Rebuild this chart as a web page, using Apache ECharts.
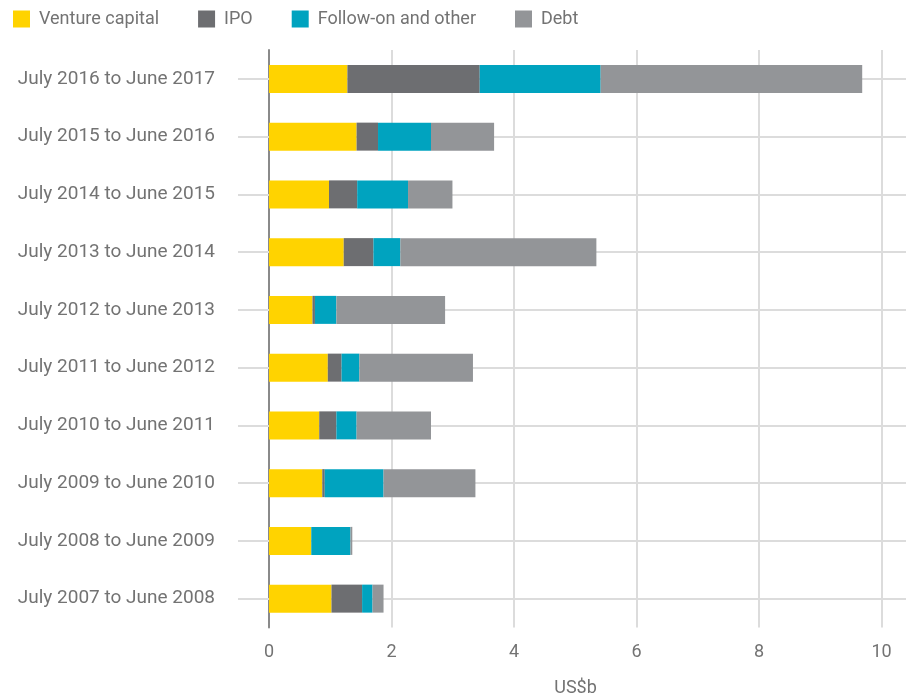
<!DOCTYPE html>
<html>
<head>
<meta charset="utf-8">
<script src="https://cdn.jsdelivr.net/npm/echarts@6/dist/echarts.min.js"></script>
<style>html,body{margin:0;padding:0;background:#fff}#c{width:909px;height:693px}</style>
</head>
<body>
<div id="c"></div>
<script>
const categories = [
  'July 2016 to June 2017','July 2015 to June 2016','July 2014 to June 2015',
  'July 2013 to June 2014','July 2012 to June 2013','July 2011 to June 2012',
  'July 2010 to June 2011','July 2009 to June 2010','July 2008 to June 2009',
  'July 2007 to June 2008'
];
const ventureCapital = [1.28, 1.43, 0.98, 1.22, 0.71, 0.96, 0.82, 0.87, 0.69, 1.02];
const ipo            = [2.16, 0.35, 0.46, 0.485, 0.04, 0.225, 0.28, 0.04, 0.0, 0.50];
const followOn       = [1.975, 0.865, 0.83, 0.44, 0.35, 0.29, 0.33, 0.96, 0.64, 0.17];
const debt           = [4.27, 1.03, 0.725, 3.20, 1.775, 1.855, 1.215, 1.50, 0.03, 0.18];
const xTicks = [0, 2, 4, 6, 8, 10];

const font = 'Roboto';
const chart = echarts.init(document.getElementById('c'), null, {renderer: 'canvas'});
const mk = (name, data, color) => ({
  name, type: 'bar', stack: 'total', data, barWidth: 28,
  itemStyle: {color}, emphasis: {disabled: true}, z: 3
});
const series = [
  mk('Venture capital', ventureCapital, '#FFD300'),
  mk('IPO', ipo, '#6D6E71'),
  mk('Follow-on and other', followOn, '#00A3BF'),
  mk('Debt', debt, '#939598')
];
series[0].markLine = {
  silent: true, z: 1, symbol: ['none', 'none'],
  label: {show: false},
  lineStyle: {color: '#dcdcdc', width: 2, type: 'solid'},
  data: categories.map(c => ({yAxis: c}))
};
chart.setOption({
  animation: false,
  textStyle: {fontFamily: font},
  legend: {
    left: 8, top: 5, icon: 'rect', itemWidth: 17, itemHeight: 17, itemGap: 39,
    textStyle: {fontFamily: font, fontSize: 18, color: '#737373', padding: [0, 0, 0, 4]},
    data: series.map(s => s.name)
  },
  grid: {left: 269, right: 3, top: 50, bottom: 65.5, containLabel: false, outerBoundsMode: 'none'},
  xAxis: {
    type: 'value', min: 0, max: 10.4, interval: 2,
    axisLine: {show: false}, axisTick: {show: false},
    axisLabel: {
      fontFamily: font, fontSize: 18, color: '#737373', margin: 16,
      showMaxLabel: false,
      formatter: v => (xTicks.includes(v) ? String(v) : '')
    },
    splitLine: {show: true, showMaxLine: false, lineStyle: {color: '#d0d0d0', width: 1.5}},
    name: 'US$b', nameLocation: 'middle', nameGap: 52,
    nameTextStyle: {fontFamily: font, fontSize: 18, color: '#737373', padding: [0, 24, 0, 0]}
  },
  yAxis: {
    type: 'category', data: categories, inverse: true,
    axisLine: {show: true, lineStyle: {color: '#8a8a8a', width: 2}},
    axisTick: {show: true, alignWithLabel: true, length: 31, lineStyle: {color: '#dcdcdc', width: 2}},
    axisLabel: {fontFamily: font, fontSize: 19, color: '#737373', margin: 54},
    splitLine: {show: false}
  },
  series
});
</script>
</body>
</html>
